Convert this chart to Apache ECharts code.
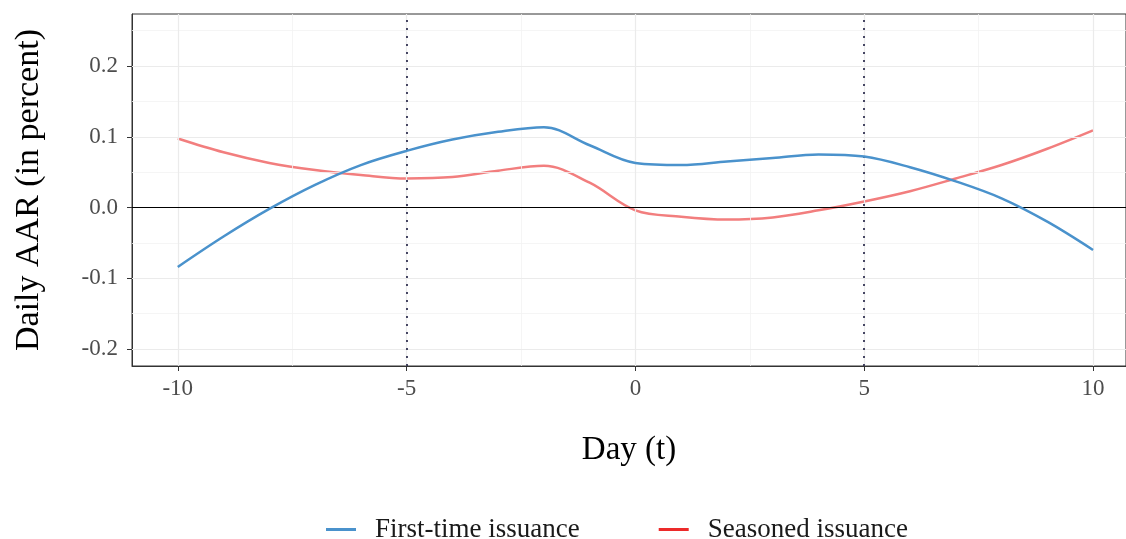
<!DOCTYPE html>
<html>
<head>
<meta charset="utf-8">
<script src="https://cdn.jsdelivr.net/npm/echarts@6/dist/echarts.min.js"></script>
<style>
  html, body { margin: 0; padding: 0; background: #fff; }
  #chart { width: 1126px; height: 539px; }
</style>
</head>
<body>
<div id="chart"></div>
<script>
// Event window days and average abnormal returns (in percent)
const days = [-10, -9, -8, -7, -6, -5, -4, -3, -2, -1, 0, 1, 2, 3, 4, 5, 6, 7, 8, 9, 10];
const firstTime = [-0.084, -0.041, -0.002, 0.032, 0.060, 0.080, 0.096, 0.107, 0.1135, 0.088, 0.063,
  0.060, 0.065, 0.070, 0.075, 0.072, 0.057, 0.037, 0.013, -0.020, -0.060];
const seasoned = [0.0975, 0.078, 0.063, 0.053, 0.046, 0.041, 0.043, 0.052, 0.059, 0.035, -0.004,
  -0.013, -0.017, -0.014, -0.004, 0.0085, 0.023, 0.041, 0.060, 0.083, 0.109];

const xTicks = [-10, -5, 0, 5, 10];
const xMinor = [-7.5, -2.5, 2.5, 7.5];
const yTicks = [-0.2, -0.1, 0.0, 0.1, 0.2];
const yMinor = [-0.15, -0.05, 0.05, 0.15, 0.25];
const eventLines = [-5, 5];

const FONT = '"Liberation Serif", "DejaVu Serif", serif';
const labelColor = '#4d4d4d';

const chart = echarts.init(document.getElementById('chart'));

const pairs = arr => days.map((d, i) => [d, arr[i]]);

// grid lines drawn as mark lines through the axes
const gridMarks = [
  ...xMinor.map(v => ({ xAxis: v, lineStyle: { color: '#f3f3f3', width: 0.8, type: 'solid' } })),
  ...yMinor.map(v => ({ yAxis: v, lineStyle: { color: '#f3f3f3', width: 0.8, type: 'solid' } })),
  ...xTicks.map(v => ({ xAxis: v, lineStyle: { color: '#ebebeb', width: 1.2, type: 'solid' } })),
  ...yTicks.map(v => ({ yAxis: v, lineStyle: { color: '#ebebeb', width: 1.2, type: 'solid' } })),
];

chart.setOption({
  animation: false,
  backgroundColor: '#ffffff',
  textStyle: { fontFamily: FONT },
  grid: {
    left: 132, top: 14, right: -2, bottom: 173,
    show: true, borderColor: '#333333', borderWidth: 1,
  },
  legend: {
    left: 321,
    top: 511,
    itemWidth: 30,
    itemHeight: 3,
    itemGap: 79,
    icon: 'rect',
    textStyle: { fontFamily: FONT, fontSize: 27, color: '#1a1a1a', padding: [0, 0, 0, 14] },
    data: [
      { name: 'First-time issuance', itemStyle: { color: '#4a92cc' } },
      { name: 'Seasoned issuance', itemStyle: { color: '#ec2a2a' } },
    ],
  },
  xAxis: {
    type: 'value',
    min: -11,
    max: 10.72,
    name: 'Day (t)',
    nameLocation: 'middle',
    nameGap: 68,
    nameTextStyle: { fontFamily: FONT, fontSize: 33, color: '#000' },
    axisLine: { show: true, onZero: false, lineStyle: { color: '#333', width: 1 } },
    axisTick: { show: true, customValues: xTicks, length: 5, lineStyle: { color: '#333' } },
    axisLabel: {
      customValues: xTicks,
      margin: 11,
      fontFamily: FONT, fontSize: 23, color: labelColor,
      formatter: v => String(v),
    },
    splitLine: { show: false },
  },
  yAxis: {
    type: 'value',
    min: -0.224,
    max: 0.2735,
    name: 'Daily AAR (in percent)',
    nameLocation: 'middle',
    nameGap: 86,
    nameTextStyle: { fontFamily: FONT, fontSize: 34, color: '#000' },
    axisLine: { show: true, onZero: false, lineStyle: { color: '#333', width: 1 } },
    axisTick: { show: true, customValues: yTicks, length: 5, lineStyle: { color: '#333' } },
    axisLabel: {
      customValues: yTicks,
      margin: 14,
      fontFamily: FONT, fontSize: 23, color: labelColor,
      formatter: v => v.toFixed(1),
    },
    splitLine: { show: false },
  },
  series: [
    {
      name: 'grid',
      type: 'line',
      data: [],
      silent: true,
      z: 1,
      markLine: {
        silent: true, symbol: 'none', label: { show: false },
        data: gridMarks,
      },
    },
    {
      name: 'ref',
      type: 'line',
      data: [],
      silent: true,
      z: 3,
      markLine: {
        silent: true, symbol: 'none', label: { show: false },
        data: [
          { yAxis: 0, lineStyle: { color: '#000', width: 1, type: 'solid' } },
          ...eventLines.map(v => ({ xAxis: v, lineStyle: { color: '#1c1c40', width: 1.6, type: [2, 6] } })),
        ],
      },
    },
    {
      name: 'First-time issuance',
      type: 'line',
      data: pairs(firstTime),
      smooth: 0.35,
      showSymbol: false,
      z: 5,
      itemStyle: { color: '#4a92cc' },
      lineStyle: { color: '#4a92cc', width: 2.5 },
    },
    {
      name: 'Seasoned issuance',
      type: 'line',
      data: pairs(seasoned),
      smooth: 0.35,
      showSymbol: false,
      z: 4,
      itemStyle: { color: '#ec2a2a' },
      lineStyle: { color: '#f27e7e', width: 2.5 },
    },
  ],
});
</script>
</body>
</html>
